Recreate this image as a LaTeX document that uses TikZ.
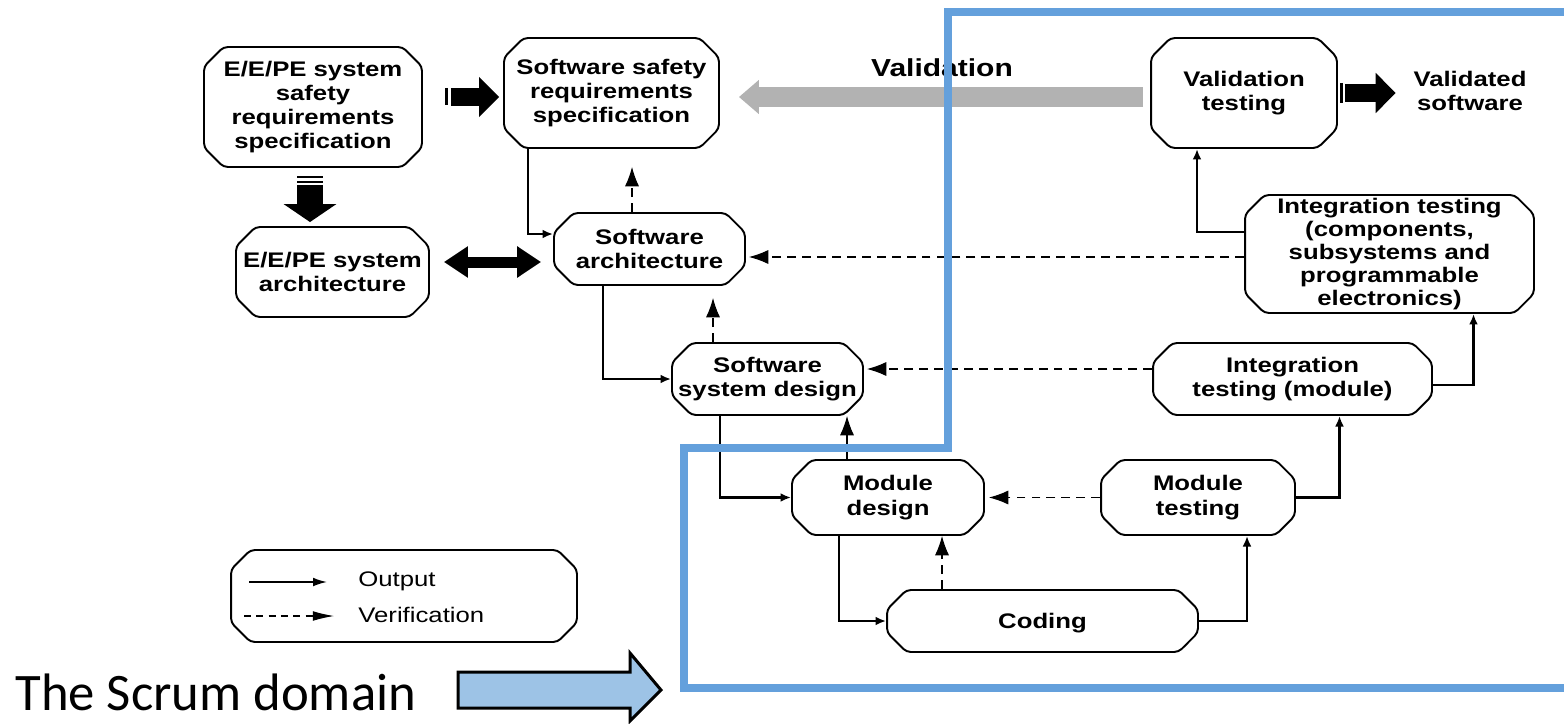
\documentclass[tikz,border=0pt]{standalone}
\usepackage{fontspec}
\setmainfont{Liberation Sans}[FakeStretch=1.22]
\newfontfamily\scrumfont{Carlito}
\usetikzlibrary{shapes.misc,arrows.meta,calc}
\definecolor{frameblue}{RGB}{100,160,220}
\definecolor{arrowblue}{RGB}{157,195,230}
\definecolor{valgray}{RGB}{178,178,178}
\begin{document}
\begin{tikzpicture}[x=0.02cm,y=-0.02cm,
  box/.style={draw, line width=1.1pt, chamfered rectangle, chamfered rectangle xsep=7.5pt,
    rounded corners=2.5pt, inner xsep=-7.5pt, inner ysep=-3pt, align=center, font=\fontsize{12}{13.8}\selectfont\bfseries},
  plaintxt/.style={inner sep=0pt, align=center, font=\fontsize{12}{13.8}\selectfont\bfseries},
  outp/.style={line width=1.2pt, -{Latex[length=6pt,width=5pt]}},
  verif/.style={line width=0.6pt, dash pattern=on 5pt off 3.5pt, -{Latex[length=11pt,width=8pt]}},
  blk/.style={line width=0.36cm, -{Triangle[length=0.4cm,width=0.78cm]}},
  blkdown/.style={line width=0.52cm, -{Triangle[length=0.36cm,width=1.04cm]}},
  dblarrow/.style={line width=0.22cm, {Triangle[length=0.48cm,width=0.6cm]}-{Triangle[length=0.48cm,width=0.6cm]}},
  grayarrow/.style={valgray, line width=0.4cm, -{Triangle[length=0.4cm,width=0.66cm]}},
  bar/.style={line width=0.06cm},
  stripe/.style={line width=0.05cm},
  ]
\useasboundingbox (0,0) rectangle (1564,723);

% boxes
\node[box, minimum width=4.36cm, minimum height=2.4cm] (eesrs) at (313,107) {E/E/PE system\\safety\\requirements\\specification};
\node[box, minimum width=4.3cm, minimum height=2.2cm] (ssrs) at (611.5,93) {Software safety\\requirements\\specification};
\node[box, minimum width=3.86cm, minimum height=1.8cm] (eesa) at (332.5,272) {E/E/PE system\\architecture};
\node[box, minimum width=3.82cm, minimum height=1.44cm] (sa) at (649.5,249) {Software\\architecture};
\node[box, minimum width=3.82cm, minimum height=1.44cm] (ssd) at (767.5,379) {Software\\system design};
\node[box, minimum width=3.84cm, minimum height=1.5cm] (md) at (888,497.5) {Module\\design};
\node[box, minimum width=6.22cm, minimum height=1.24cm] (coding) at (1042.5,621) {\rule[-12pt]{0pt}{32pt}Coding};
\node[box, minimum width=3.88cm, minimum height=1.5cm] (mt) at (1198,497.5) {Module\\testing};
\node[box, minimum width=5.58cm, minimum height=1.44cm] (itm) at (1292.5,379) {Integration\\testing (module)};
\node[box, minimum width=5.78cm, minimum height=2.36cm, font=\fontsize{12}{13.2}\selectfont\bfseries] (itc) at (1389.5,254) {Integration testing\\(components,\\subsystems and\\programmable\\electronics)};
\node[box, minimum width=3.72cm, minimum height=2.2cm] (vt) at (1244,93) {Validation\\testing};
\node[plaintxt] (vs) at (1470,91) {Validated\\software};
\node[inner sep=0pt, font=\fontsize{14}{16}\selectfont\bfseries] (vlab) at (942,68) {Validation};

% output connectors
\draw[outp] ($(ssrs.south)+(-83.5,0)$) |- ($(sa.west)+(0,-15)$);
\draw[outp] ($(sa.south)+(-46.5,0)$) |- (ssd.west);
\draw[outp] ($(ssd.south)+(-47.5,0)$) |- (md.west);
\draw[outp] ($(md.south)+(-49,0)$) |- (coding.west);
\draw[outp] (coding.east) -| ($(mt.south)+(49,0)$);
\draw[outp] (mt.east) -| ($(itm.south)+(47,0)$);
\draw[outp] ($(itm.east)+(0,6)$) -| ($(itc.south)+(84,0)$);
\draw[outp] ($(itc.west)+(0,-22)$) -| ($(vt.south)+(-47,0)$);

% verification connectors
\coordinate (v1) at ($(sa.north)+(-17.5,0)$);
\draw[verif, shorten >=0.36cm] (v1) -- (v1 |- ssrs.south);
\coordinate (v2) at ($(ssd.north)+(-54.5,0)$);
\draw[verif, shorten >=0.24cm] (v2) -- (v2 |- sa.south);
\coordinate (v3) at ($(md.north)+(-41,0)$);
\draw[verif] (v3) -- (v3 |- ssd.south);
\coordinate (v4) at ($(coding.north)+(-100.5,0)$);
\draw[verif] (v4) -- (v4 |- md.south);
\draw[verif, shorten >=0.08cm] (mt.west) -- (md.east);
\coordinate (v5) at ($(itm.west)+(0,-10)$);
\draw[verif, shorten >=0.06cm] (v5) -- (v5 -| ssd.east);
\coordinate (v6) at ($(itc.west)+(0,3)$);
\draw[verif, shorten >=0.06cm] (v6) -- (v6 -| sa.east);

% block arrows
\draw[bar] ($(eesrs.east)+(23.5,-19)$) -- ++(0,17);
\draw[blk] ($(eesrs.east)+(28,-10)$) -- ($(ssrs.west)+(-4,4)$);
\draw[stripe] ($(eesrs.south)+(-16,9.2)$) -- ++(26,0);
\draw[stripe] ($(eesrs.south)+(-16,13.8)$) -- ++(26,0);
\draw[blkdown] ($(eesrs.south)+(-3,17)$) -- ($(eesa.north)+(-22.5,-4)$);
\draw[dblarrow] ($(eesa.east)+(14,-10)$) -- ($(sa.west)+(-12,13)$);
\draw[bar] ($(vt.east)+(4,-10)$) -- ++(0,20);
\draw[blk] ($(vt.east)+(7,0)$) -- ($(vs.west)+(-17.5,2)$);
\draw[grayarrow] ($(vt.west)+(-7,4)$) -- ($(ssrs.east)+(19,4)$);

% legend
\node[box, minimum width=6.92cm, minimum height=1.84cm] (legend) at (404,596) {\rule{0pt}{1.4cm}\rule{6cm}{0pt}};
\coordinate (lo1) at ($(legend.west)+(19,-14)$);
\coordinate (lo2) at ($(legend.west)+(97,-14)$);
\draw[line width=1pt, -{Latex[length=8pt,width=5pt]}] (lo1) -- (lo2);
\coordinate (lv1) at ($(legend.west)+(14,20)$);
\coordinate (lv2) at ($(legend.west)+(104,20)$);
\draw[line width=0.6pt, dash pattern=on 4pt off 3pt, -{Latex[length=12pt,width=5.5pt]}] (lv1) -- (lv2);
\node[anchor=west, inner sep=0pt, font=\fontsize{12}{14}\selectfont] (lout) at ($(legend.west)+(128,-15)$) {Output};
\node[anchor=west, inner sep=0pt, font=\fontsize{12}{14}\selectfont] (lver) at ($(legend.west)+(128,19)$) {Verification};

% scrum domain
\node[anchor=base west, inner sep=0pt, font=\scrumfont\fontsize{30}{36}\selectfont] (scrum) at (15,710) {The Scrum domain};
\draw[line width=0.06cm, fill=arrowblue, line join=miter] (458,672) -- (630,672) -- (630,653) -- (661,690) -- (630,721) -- (630,708) -- (458,708) -- cycle;

% scrum frame
\draw[frameblue, line width=0.16cm, line join=miter] (1575,12) -- (948,12) -- (948,448) -- (684,448) -- (684,688) -- (1575,688);
\end{tikzpicture}
\end{document}
